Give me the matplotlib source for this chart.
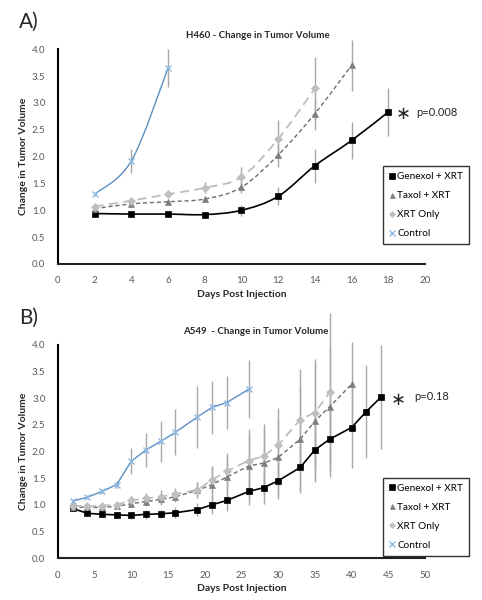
import numpy as np
import matplotlib
matplotlib.use('Agg')
import matplotlib.pyplot as plt
from matplotlib.path import Path
from matplotlib.patches import PathPatch

plt.rcParams['font.family'] = ['Lato', 'DejaVu Sans']

# ---- data: H460 (panel A) ----
days_a = [2, 4, 6, 8, 10, 12, 14, 16, 18]
gen_a = [0.94, 0.93, 0.93, 0.92, 1.00, 1.26, 1.83, 2.30, 2.83]
gen_a_err = [0.03, 0.03, 0.03, 0.03, 0.10, 0.17, 0.32, 0.35, 0.45]
tax_a = [1.03, 1.12, 1.16, 1.21, 1.43, 2.03, 2.80, 3.70]
tax_a_err = [0.03, 0.03, 0.04, 0.05, 0.10, 0.22, 0.30, 0.47]
xrt_a = [1.07, 1.18, 1.30, 1.42, 1.62, 2.33, 3.27]
xrt_a_err = [0.03, 0.04, 0.06, 0.10, 0.18, 0.35, 0.58]
ctl_a = [1.30, 1.92, 3.65]
ctl_a_err = [0.03, 0.22, 0.35]

# ---- data: A549 (panel B) ----
days_b = [2, 4, 6, 8, 10, 12, 14, 16, 19, 21, 23, 26, 28, 30, 33, 35, 37, 40, 42, 44]
gen_b = [0.93, 0.84, 0.82, 0.81, 0.80, 0.82, 0.83, 0.85, 0.91, 1.00, 1.08, 1.25,
         1.32, 1.45, 1.70, 2.03, 2.23, 2.45, 2.75, 3.02]
gen_b_err = [0.03, 0.04, 0.05, 0.05, 0.06, 0.08, 0.08, 0.10, 0.12, 0.18, 0.20, 0.25,
             0.30, 0.35, 0.45, 0.60, 0.70, 0.76, 0.87, 0.98]
tax_b = [0.96, 0.95, 0.95, 0.97, 1.02, 1.06, 1.10, 1.15, 1.27, 1.38, 1.52, 1.73,
         1.78, 1.89, 2.23, 2.57, 2.84, 3.26]
tax_b_err = [0.03, 0.04, 0.04, 0.05, 0.06, 0.08, 0.10, 0.10, 0.15, 0.33, 0.40, 0.60,
             0.65, 0.70, 1.00, 1.10, 1.10, 0.80]
xrt_b = [0.98, 0.97, 0.98, 1.00, 1.08, 1.12, 1.15, 1.20, 1.28, 1.47, 1.63, 1.83,
         1.91, 2.12, 2.60, 2.73, 3.11]
xrt_b_err = [0.03, 0.04, 0.05, 0.06, 0.08, 0.10, 0.12, 0.12, 0.15, 0.25, 0.35, 0.60,
             0.60, 0.70, 0.95, 1.00, 1.50]
ctl_b = [1.07, 1.14, 1.25, 1.38, 1.82, 2.03, 2.19, 2.36, 2.65, 2.83, 2.92, 3.17]
ctl_b_err = [0.03, 0.04, 0.05, 0.06, 0.25, 0.32, 0.39, 0.43, 0.58, 0.50, 0.49, 0.55]

labels = ['Genexol + XRT', 'Taxol + XRT', 'XRT Only', 'Control']

# style per series: line colour, dash, marker, marker colour, marker size
styles = [
    dict(color='black', ls='-', lw=1.2, marker='s', mc='black', ms=5),
    dict(color='#6e6e6e', ls=(0, (3, 2)), lw=1.0, marker='^', mc='#7f7f7f', ms=4.5),
    dict(color='#bdbdbd', ls=(0, (5, 3)), lw=1.3, marker='D', mc='#bfbfbf', ms=3.8),
    dict(color='#5b8fc2', ls='-', lw=1.0, marker='x', mc='#8fbbe3', ms=5),
]
err_col = '#a8a8a8'


def smooth_path(x, y):
    # Excel-like smoothed line: cubic Bezier segments through the points
    x = np.asarray(x, float)
    y = np.asarray(y, float)
    pts = np.column_stack([x, y])
    n = len(pts)
    verts = [pts[0]]
    codes = [Path.MOVETO]
    for i in range(n - 1):
        p0 = pts[i - 1] if i > 0 else pts[i]
        p3 = pts[i + 2] if i + 2 < n else pts[i + 1]
        c1 = pts[i] + (pts[i + 1] - p0) / 6.0
        c2 = pts[i + 1] - (p3 - pts[i]) / 6.0
        verts += [c1, c2, pts[i + 1]]
        codes += [Path.CURVE4] * 3
    return Path(verts, codes)


def draw_panel(ax, days, series, errs, smooth, xmax, xstep):
    for vals, err, st in zip(series, errs, styles):
        d = days[:len(vals)]
        ax.errorbar(d, vals, yerr=err, fmt='none', ecolor=err_col, elinewidth=1.0,
                    capsize=0, zorder=1, clip_on=False)
    for vals, st, lab in zip(series, styles, labels):
        d = days[:len(vals)]
        if smooth:
            ax.add_patch(PathPatch(smooth_path(d, vals), fill=False, edgecolor=st['color'],
                                   linestyle=st['ls'], linewidth=st['lw'], zorder=2))
        else:
            ax.plot(d, vals, color=st['color'], ls=st['ls'], lw=st['lw'], zorder=2)
        ax.plot(d, vals, ls='none', marker=st['marker'], color=st['mc'], ms=st['ms'],
                mew=1.0 if st['marker'] == 'x' else 0.5, label=lab, zorder=3, clip_on=False)
    ax.set_xlim(0, xmax)
    ax.set_ylim(0, 4.0)
    ax.set_xticks(np.arange(0, xmax + 1, xstep))
    ax.set_yticks(np.arange(0, 4.01, 0.5))
    ax.set_yticklabels(['%.1f' % v for v in np.arange(0, 4.01, 0.5)])
    ax.tick_params(length=0, labelsize=7, labelcolor='#595959', pad=9)
    for s in ['top', 'right']:
        ax.spines[s].set_visible(False)
    ax.spines['left'].set_linewidth(1.5)
    ax.spines['bottom'].set_linewidth(1.5)
    ax.spines['bottom'].set_color('#222222')
    ax.set_xlabel('Days Post Injection', fontsize=7.5, fontweight='bold', color='#262626', labelpad=3)
    ax.set_ylabel('Change in Tumor Volume', fontsize=7.5, fontweight='bold', color='#262626', labelpad=3)


def add_legend(ax, y):
    leg = ax.legend(loc='upper left', bbox_to_anchor=(0.886, y), fontsize=7.2, frameon=True,
                    fancybox=False, edgecolor='black', handlelength=0.6, handletextpad=0.2,
                    borderpad=0.6, labelspacing=1.0, borderaxespad=0, markerscale=0.8)
    leg.get_frame().set_linewidth(1.0)


fig = plt.figure(figsize=(4.82, 6.0), dpi=100)

ax1 = fig.add_axes([0.1203, 0.56, 0.7614, 0.358])
draw_panel(ax1, days_a, [gen_a, tax_a, xrt_a, ctl_a], [gen_a_err, tax_a_err, xrt_a_err, ctl_a_err],
           True, 20, 2)
add_legend(ax1, 0.456)
ax1.text(18.84, 2.80, '\u2217', fontsize=13, ha='center', va='center', color='#262626',
         family='DejaVu Sans')
ax1.text(19.55, 2.83, 'p=0.008', fontsize=8, ha='left', va='center', color='#262626')

ax2 = fig.add_axes([0.1203, 0.07, 0.7614, 0.355])
draw_panel(ax2, days_b, [gen_b, tax_b, xrt_b, ctl_b], [gen_b_err, tax_b_err, xrt_b_err, ctl_b_err],
           False, 50, 5)
add_legend(ax2, 0.376)
ax2.text(46.3, 2.97, '\u2217', fontsize=13, ha='center', va='center', color='#262626',
         family='DejaVu Sans')
ax2.text(48.6, 3.04, 'p=0.18', fontsize=8, ha='left', va='center', color='#262626')

fig.text(0.535, 0.94, 'H460 - Change in Tumor Volume', fontsize=7, fontweight='bold',
         ha='center', va='center', color='#262626')
fig.text(0.531, 0.447, 'A549  - Change in Tumor Volume', fontsize=7, fontweight='bold',
         ha='center', va='center', color='#262626')
fig.text(0.04, 0.963, 'A)', fontsize=15, ha='left', va='center', color='#262626')
fig.text(0.04, 0.47, 'B)', fontsize=15, ha='left', va='center', color='#262626')

fig.savefig('out.png', dpi=100)
